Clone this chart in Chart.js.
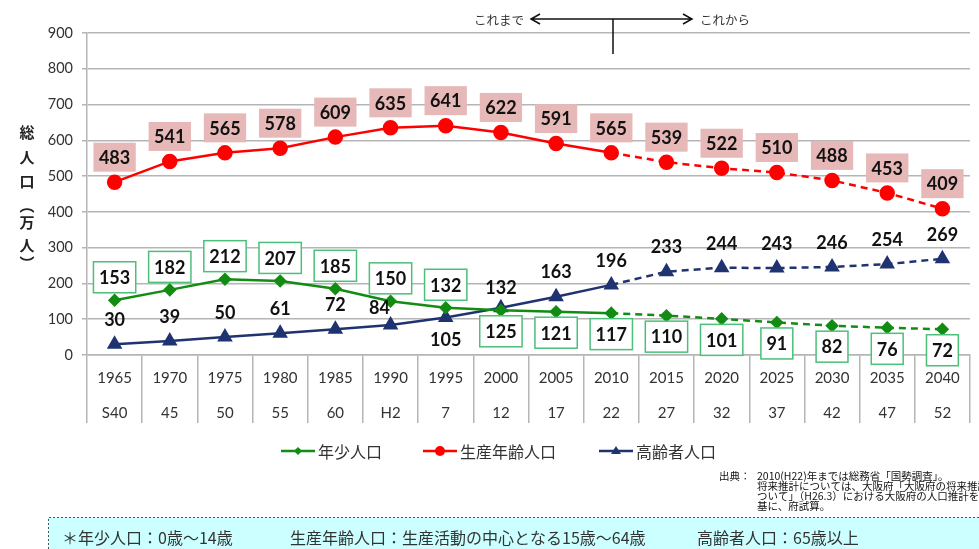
<!DOCTYPE html>
<html>
<head>
<meta charset="utf-8">
<script src="https://cdn.jsdelivr.net/npm/chart.js@4.4.1/dist/chart.umd.min.js"></script>
<style>
  html, body { margin: 0; padding: 0; background: #fff; }
  #wrap { position: relative; width: 979px; height: 549px; }
</style>
</head>
<body>
<div id="wrap"><canvas id="pop"></canvas></div>
<script>
// census years + Japanese era years underneath
const years = ['1965', '1970', '1975', '1980', '1985', '1990', '1995', '2000',
  '2005', '2010', '2015', '2020', '2025', '2030', '2035', '2040'];
const eras = ['S40', '45', '50', '55', '60', 'H2', '7', '12', '17', '22',
  '27', '32', '37', '42', '47', '52'];

// 万人
const youngPop = [153, 182, 212, 207, 185, 150, 132, 125, 121, 117, 110, 101, 91, 82, 76, 72];
const workingPop = [483, 541, 565, 578, 609, 635, 641, 622, 591, 565, 539, 522, 510, 488, 453, 409];
const elderlyPop = [30, 39, 50, 61, 72, 84, 105, 132, 163, 196, 233, 244, 243, 246, 254, 269];

const seriesNames = ['年少人口', '生産年齢人口', '高齢者人口'];
const lastActual = 9; // 2010 — projections (dashed) after this

const GREEN = '#128c12', RED = '#ff0000', NAVY = '#1f3370';
const CJK = '"Noto Sans CJK JP", "Noto Sans", sans-serif';

const dashAfter = ctx => ctx.p0DataIndex >= lastActual ? [7, 5] : undefined;

// value labels above / below points
const labelPlugin = {
  id: 'valueLabels',
  afterDatasetsDraw(chart) {
    const ctx = chart.ctx;
    ctx.save();
    ctx.font = 'bold 18px Lato';
    ctx.textAlign = 'center';
    ctx.textBaseline = 'middle';

    const box = (txt, x, y, fill, stroke, h) => {
      const w = ctx.measureText(txt).width + 11;
      if (fill) { ctx.fillStyle = fill; ctx.fillRect(x - w / 2, y - h / 2, w, h); }
      if (stroke) {
        ctx.strokeStyle = stroke; ctx.lineWidth = 1.5;
        ctx.strokeRect(x - w / 2, y - h / 2, w, h);
      }
      ctx.fillStyle = '#111';
      ctx.fillText(txt, x, y + 1);
    };

    // working age: pink boxes above
    chart.getDatasetMeta(1).data.forEach((pt, i) => {
      box(String(workingPop[i]), pt.x, pt.y - 25, '#e6b8b7', null, 29);
    });
    // young: white boxes with green border, above then below
    chart.getDatasetMeta(0).data.forEach((pt, i) => {
      const dy = i <= 6 ? -23 : 21;
      box(String(youngPop[i]), pt.x, pt.y + dy, '#fff', '#4cbf7a', 31);
    });
    // elderly: plain text
    chart.getDatasetMeta(2).data.forEach((pt, i) => {
      let dx = 0, dy = -24;
      if (i === 5) { dx = -11; dy = -17; }
      if (i === 6) dy = 23;
      if (i === 7) dy = -20;
      ctx.fillStyle = '#111';
      ctx.fillText(String(elderlyPop[i]), pt.x + dx, pt.y + dy);
    });
    ctx.restore();
  }
};

const extrasPlugin = {
  id: 'extras',
  afterDraw(chart) {
    const ctx = chart.ctx;
    ctx.save();

    // vertical y-axis title
    ctx.fillStyle = '#222';
    ctx.font = 'bold 15px ' + CJK;
    ctx.textAlign = 'center';
    ctx.textBaseline = 'middle';
    const title = [['総', 132], ['人', 157], ['口', 181], ['︵', 205], ['万', 222], ['人', 245], ['︶', 263]];
    title.forEach(([c, y]) => ctx.fillText(c, 27, y));

    // これまで <-|-> これから
    ctx.strokeStyle = '#111';
    ctx.lineWidth = 1.5;
    ctx.beginPath();
    ctx.moveTo(531, 19); ctx.lineTo(692, 19);
    ctx.moveTo(540, 14); ctx.lineTo(531, 19); ctx.lineTo(540, 24);
    ctx.moveTo(683, 14); ctx.lineTo(692, 19); ctx.lineTo(683, 24);
    ctx.moveTo(613, 19); ctx.lineTo(613, 54);
    ctx.stroke();
    ctx.font = '12.5px ' + CJK;
    ctx.fillStyle = '#333';
    ctx.textAlign = 'right';
    ctx.fillText('これまで', 524, 20);
    ctx.textAlign = 'left';
    ctx.fillText('これから', 700, 20);

    // legend
    const legY = 451;
    const items = [
      { x: 281, col: GREEN, mark: 'diamond' },
      { x: 423, col: RED, mark: 'circle' },
      { x: 599, col: NAVY, mark: 'triangle' }
    ];
    items.forEach((it, k) => {
      ctx.strokeStyle = it.col; ctx.fillStyle = it.col; ctx.lineWidth = 2.5;
      ctx.beginPath(); ctx.moveTo(it.x, legY); ctx.lineTo(it.x + 34, legY); ctx.stroke();
      const cx = it.x + 17;
      ctx.beginPath();
      if (it.mark === 'diamond') {
        ctx.moveTo(cx, legY - 4); ctx.lineTo(cx + 4, legY); ctx.lineTo(cx, legY + 4); ctx.lineTo(cx - 4, legY);
      } else if (it.mark === 'circle') {
        ctx.arc(cx, legY, 5, 0, Math.PI * 2);
      } else {
        ctx.moveTo(cx, legY - 5); ctx.lineTo(cx + 5, legY + 3); ctx.lineTo(cx - 5, legY + 3);
      }
      ctx.closePath(); ctx.fill();
      ctx.fillStyle = '#333';
      ctx.font = '16px ' + CJK;
      ctx.textAlign = 'left';
      ctx.textBaseline = 'middle';
      ctx.fillText(seriesNames[k], it.x + 37, legY + 1);
    });

    // source note
    ctx.fillStyle = '#111';
    ctx.font = '10.5px ' + CJK;
    ctx.textBaseline = 'middle';
    ctx.fillText('出典：', 719, 476);
    ctx.fillText('2010(H22)年までは総務省「国勢調査」。', 757, 476);
    ctx.fillText('将来推計については、大阪府「大阪府の将来推計人口に', 757, 486);
    ctx.fillText('ついて」（H26.3）における大阪府の人口推計を', 757, 496);
    ctx.fillText('基に、府試算。', 757, 506);

    // definitions box
    ctx.fillStyle = '#ccffff';
    ctx.fillRect(48, 517, 940, 40);
    ctx.strokeStyle = '#555';
    ctx.lineWidth = 1;
    ctx.setLineDash([2, 2]);
    ctx.beginPath();
    ctx.moveTo(48.5, 549); ctx.lineTo(48.5, 517.5); ctx.lineTo(979, 517.5);
    ctx.stroke();
    ctx.setLineDash([]);
    ctx.fillStyle = '#333';
    ctx.font = '16px ' + CJK;
    ctx.fillText('＊年少人口：0歳～14歳', 62, 538);
    ctx.fillText('生産年齢人口：生産活動の中心となる15歳～64歳', 290, 538);
    ctx.fillText('高齢者人口：65歳以上', 697, 538);

    ctx.restore();
  }
};

new Chart(document.getElementById('pop'), {
  type: 'line',
  data: {
    labels: years.map((y, i) => [y, eras[i]]),
    datasets: [
      {
        label: seriesNames[0], data: youngPop,
        borderColor: GREEN, backgroundColor: GREEN, borderWidth: 2.5,
        pointStyle: 'rectRot', pointRadius: 5, segment: { borderDash: dashAfter }
      },
      {
        label: seriesNames[1], data: workingPop,
        borderColor: RED, backgroundColor: RED, borderWidth: 2.5,
        pointStyle: 'circle', pointRadius: 6.5, segment: { borderDash: dashAfter }
      },
      {
        label: seriesNames[2], data: elderlyPop,
        borderColor: NAVY, backgroundColor: NAVY, borderWidth: 2.5,
        pointStyle: 'triangle', pointRadius: 6.5, segment: { borderDash: dashAfter }
      }
    ]
  },
  options: {
    responsive: true,
    maintainAspectRatio: false,
    animation: false,
    layout: { padding: { left: 0, top: 33, right: 3, bottom: 126 } },
    plugins: { legend: { display: false }, tooltip: { enabled: false } },
    scales: {
      x: {
        offset: true,
        afterFit: s => { s.height = 68; },
        grid: { offset: true, drawOnChartArea: false, tickLength: 68, color: '#b5b5b5', lineWidth: 1.5 },
        border: { color: '#b5b5b5', width: 1.5 },
        ticks: { color: '#333', padding: -62.5, font: { family: 'Lato', size: 15, lineHeight: 2.333 } }
      },
      y: {
        min: 0, max: 900,
        afterFit: s => { s.width = 87; },
        grid: { color: '#b5b5b5', lineWidth: 1.5, tickLength: 5 },
        border: { color: '#b5b5b5', width: 1.5 },
        ticks: { stepSize: 100, color: '#333', padding: 9, font: { family: 'Lato', size: 14.5 } }
      }
    }
  },
  plugins: [labelPlugin, extrasPlugin]
});
</script>
</body>
</html>
